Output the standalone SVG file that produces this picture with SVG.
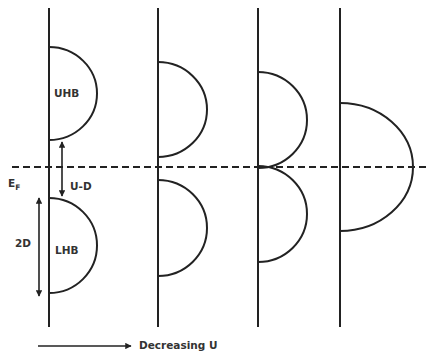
<svg xmlns="http://www.w3.org/2000/svg" width="427" height="351" viewBox="0 0 427 351">
<defs>
<marker id="ah" viewBox="0 0 10 10" refX="9" refY="5" markerWidth="4" markerHeight="4" orient="auto-start-reverse" markerUnits="strokeWidth">
<path d="M0,0 L10,5 L0,10 Z" fill="#222"/>
</marker>
<style>
.ax{stroke:#222;stroke-width:2;fill:none}
.band{stroke:#222;stroke-width:2;fill:none}
.ef{stroke:#222;stroke-width:2;fill:none;stroke-dasharray:7 4}
.arr{stroke:#222;stroke-width:1.6;fill:none}
.lbl{font-family:"DejaVu Sans","Liberation Sans",sans-serif;font-size:10.5px;font-weight:bold;fill:#333}
</style>
</defs>
<g id="fermi-level">
<line class="ef" x1="12" y1="167" x2="427" y2="167"/>
<text class="lbl" x="8" y="187">E<tspan font-size="7.5" dy="3">F</tspan></text>
</g>
<g id="panel1">
<line class="ax" x1="49" y1="8" x2="49" y2="327"/>
<path class="band" d="M49,47 A48,46.5 0 0 1 49,140"/>
<path class="band" d="M49,198 A48,47.5 0 0 1 49,293"/>
<text class="lbl" x="54" y="97">UHB</text>
<text class="lbl" x="55" y="254">LHB</text>
</g>
<g id="panel2">
<line class="ax" x1="158" y1="8" x2="158" y2="327"/>
<path class="band" d="M158,62 A49,47.5 0 0 1 158,157"/>
<path class="band" d="M158,180 A49,48 0 0 1 158,276"/>
</g>
<g id="panel3">
<line class="ax" x1="258" y1="8" x2="258" y2="327"/>
<path class="band" d="M258,72 A49,48 0 0 1 258,168"/>
<path class="band" d="M258,166 A49,48 0 0 1 258,262"/>
</g>
<g id="panel4">
<line class="ax" x1="340" y1="8" x2="340" y2="327"/>
<path class="band" d="M340,103 A73,64 0 0 1 340,231"/>
</g>
<g id="connectors">
<line class="arr" x1="62" y1="142" x2="62" y2="196" marker-start="url(#ah)" marker-end="url(#ah)"/>
<line class="arr" x1="39" y1="198" x2="39" y2="296" marker-start="url(#ah)" marker-end="url(#ah)"/>
<line class="arr" x1="38" y1="346" x2="131" y2="346" marker-end="url(#ah)"/>
</g>
<g id="labels">
<text class="lbl" x="70" y="190">U-D</text>
<text class="lbl" x="15" y="247">2D</text>
<text class="lbl" x="139" y="349">Decreasing U</text>
</g>
</svg>
